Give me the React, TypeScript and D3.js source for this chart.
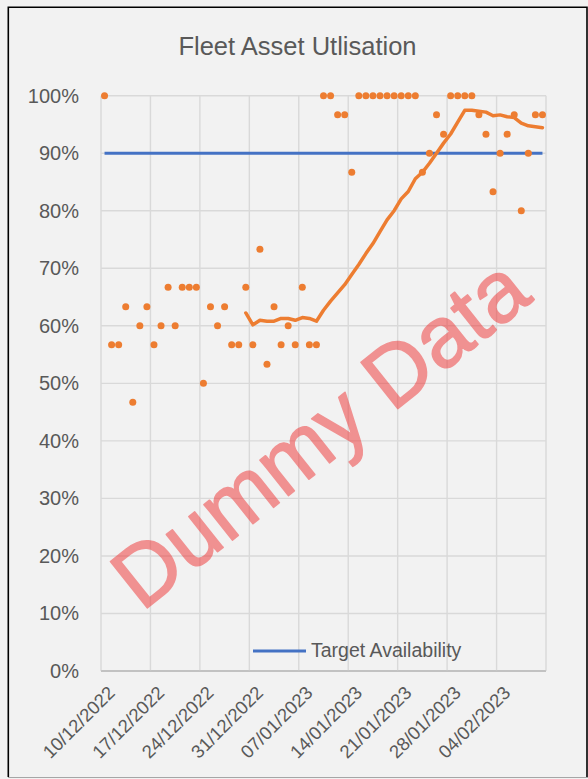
import React from "react";
import * as d3 from "d3";

// ---- Data ----
const startDate = new Date(Date.UTC(2022, 11, 10)); // 10/12/2022
const utilisation: number[] = [
  100, 56.7, 56.7, 63.3, 46.7, 60, 63.3, 56.7, 60, 66.7,
  60, 66.7, 66.7, 66.7, 50, 63.3, 60, 63.3, 56.7, 56.7,
  66.7, 56.7, 73.3, 53.3, 63.3, 56.7, 60, 56.7, 66.7, 56.7,
  56.7, 100, 100, 96.7, 96.7, 86.7, 100, 100, 100, 100,
  100, 100, 100, 100, 100, 86.7, 90, 96.7, 93.3, 100,
  100, 100, 100, 96.7, 93.3, 83.3, 90, 93.3, 96.7, 80,
  90, 96.7, 96.7,
];
const targetAvailability = 90;
const movingAvgPeriod = 21; // Excel moving-average trendline period
const yTicks: number[] = [0, 10, 20, 30, 40, 50, 60, 70, 80, 90, 100];
const tickLabels: string[] = [
  "10/12/2022", "17/12/2022", "24/12/2022", "31/12/2022", "07/01/2023",
  "14/01/2023", "21/01/2023", "28/01/2023", "04/02/2023",
];
const title = "Fleet Asset Utlisation";
const legendLabel = "Target Availability";
const watermark = "Dummy Data";

const W = 588;
const H = 779;
const FONT = "'Liberation Sans', Arial, sans-serif";
const TEXT = "#595959";
const ORANGE = "#ED7D31";
const BLUE = "#4472C4";
const GRID = "#D9D9D9";

export default function App() {
  const left = 101, right = 546, top = 95.7, bottom = 671;
  const dayMs = 86400000;
  const nDays = utilisation.length;
  const endDate = new Date(startDate.getTime() + nDays * dayMs);
  const x = d3.scaleUtc().domain([startDate, endDate]).range([left, right]);
  const y = d3.scaleLinear().domain([0, 100]).range([bottom, top]);

  const points = utilisation.map((v, i) => ({
    date: new Date(startDate.getTime() + (i + 0.5) * dayMs),
    value: v,
    i,
  }));

  const tickDates = d3.range(0, 10).map((k) => new Date(startDate.getTime() + k * 7 * dayMs));

  const ma = points
    .filter((p) => p.i >= movingAvgPeriod - 1)
    .map((p) => ({
      date: p.date,
      value: d3.mean(utilisation.slice(p.i - movingAvgPeriod + 1, p.i + 1)) as number,
    }));

  const lineGen = d3
    .line<{ date: Date; value: number }>()
    .x((d) => x(d.date))
    .y((d) => y(d.value));

  const targetLine = lineGen(points.map((p) => ({ date: p.date, value: targetAvailability })));

  const wmX = 338, wmY = 456;

  return (
    <svg
      width={W}
      height={H}
      style={{ position: "absolute", left: 0, top: 0, display: "block" }}
      fontFamily={FONT}
    >
      <rect x={0} y={0} width={W} height={H} fill="#F2F2F2" />
      {/* frame */}
      <path d={`M8.3,777 L8.3,7.3 L587,7.3 L587,777`} fill="none" stroke="#000" strokeWidth={1.6} />
      <line x1={8} x2={588} y1={777.5} y2={777.5} stroke="#A6A6A6" strokeWidth={1} />

      {/* title */}
      <text x={297.5} y={55} textAnchor="middle" fontSize={25.5} fill={TEXT}>
        {title}
      </text>

      {/* gridlines */}
      {yTicks.map((t) => (
        <line key={"h" + t} x1={left} x2={right} y1={y(t)} y2={y(t)} stroke={t === 0 ? "#BFBFBF" : GRID} strokeWidth={1.4} />
      ))}
      {tickDates.map((d, k) => (
        <line key={"v" + k} x1={x(d)} x2={x(d)} y1={top} y2={bottom} stroke={GRID} strokeWidth={1.4} />
      ))}
      <line x1={left} x2={right} y1={bottom} y2={bottom} stroke="#BFBFBF" strokeWidth={1.5} />

      {/* y labels */}
      {yTicks.map((t) => (
        <text key={"yl" + t} x={79} y={y(t)} dy="0.35em" textAnchor="end" fontSize={20} fill={TEXT}>
          {t + "%"}
        </text>
      ))}

      {/* x labels */}
      {tickLabels.map((lab, k) => {
        const tx = x(tickDates[k]);
        return (
          <text
            key={"xl" + k}
            transform={`translate(${tx + 15},${694}) rotate(-45)`}
            textAnchor="end"
            fontSize={18.5}
            fill={TEXT}
          >
            {lab}
          </text>
        );
      })}

      {/* target line */}
      <path d={targetLine || ""} fill="none" stroke={BLUE} strokeWidth={3.2} />

      {/* moving average */}
      <path d={lineGen(ma) || ""} fill="none" stroke={ORANGE} strokeWidth={3.5} strokeLinejoin="round" strokeLinecap="round" />

      {/* points */}
      {points.map((p) => (
        <circle key={"p" + p.i} cx={x(p.date)} cy={y(p.value)} r={3.5} fill={ORANGE} />
      ))}

      {/* legend */}
      <line x1={253} x2={306} y1={651} y2={651} stroke={BLUE} strokeWidth={3.2} />
      <text x={311} y={657} fontSize={19.5} fill={TEXT}>
        {legendLabel}
      </text>

      {/* watermark */}
      <g opacity={0.5}>
        <text
          transform={`translate(${wmX},${wmY}) rotate(-38.5)`}
          textAnchor="middle"
          fontSize={86}
          fill="rgb(240,50,50)"
          stroke="rgb(240,50,50)"
          strokeWidth={1.6}
          strokeLinejoin="round"
        >
          {watermark}
        </text>
      </g>
    </svg>
  );
}
